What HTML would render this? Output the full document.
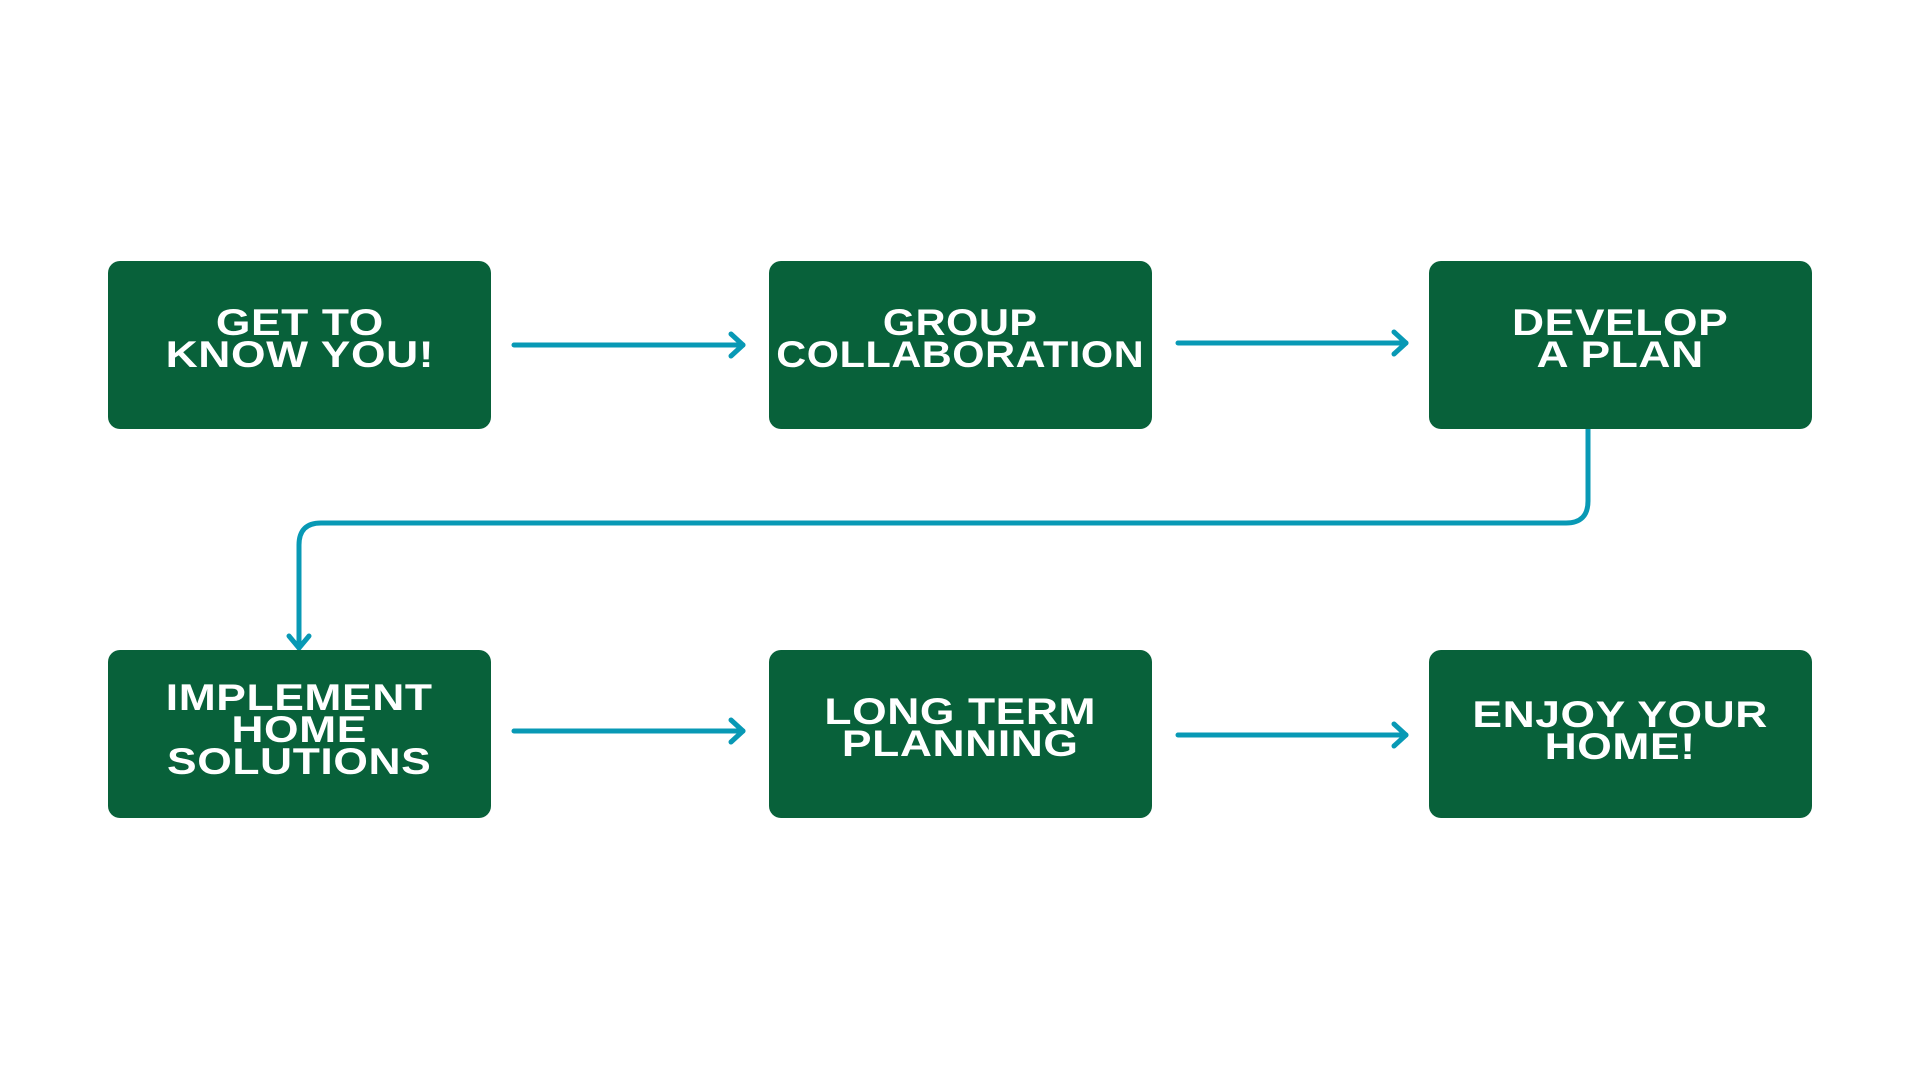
<!DOCTYPE html>
<html><head><meta charset="utf-8"><style>
html,body{margin:0;padding:0;background:#fff;}
body{width:1920px;height:1080px;position:relative;overflow:hidden;font-family:"Liberation Sans",sans-serif;}
.b{position:absolute;width:383px;height:168px;background:#08613a;border-radius:12px;display:flex;align-items:center;justify-content:center;}
.t{color:#fff;font-weight:bold;font-size:37px;line-height:32px;text-align:center;transform:scaleX(1.2);margin-top:-12px;white-space:nowrap;letter-spacing:0.5px;}
svg{position:absolute;left:0;top:0;}
</style></head><body>
<svg width="1920" height="1080">
<g stroke="#0899b5" stroke-width="5" fill="none" stroke-linecap="round" stroke-linejoin="round">
<line x1="514" y1="345" x2="743" y2="345"/><polyline points="731,334 743,345 731,356"/>
<line x1="1178" y1="343" x2="1406" y2="343"/><polyline points="1394,332 1406,343 1394,354"/>
<line x1="514" y1="731" x2="743" y2="731"/><polyline points="731,720 743,731 731,742"/>
<line x1="1178" y1="735" x2="1406" y2="735"/><polyline points="1394,724 1406,735 1394,746"/>
<path d="M1588,429 V501 Q1588,523 1566,523 H321 Q299,523 299,545 V648"/>
<polyline points="289,636 299,648 309,636"/>
</g>
</svg>
<div class="b" style="left:108px;top:261px"><div class="t">GET TO<br>KNOW YOU!</div></div>
<div class="b" style="left:769px;top:261px"><div class="t" style="transform:scaleX(1.12)">GROUP<br>COLLABORATION</div></div>
<div class="b" style="left:1429px;top:261px"><div class="t">DEVELOP<br>A PLAN</div></div>
<div class="b" style="left:108px;top:650px"><div class="t" style="margin-top:-8px">IMPLEMENT<br>HOME<br>SOLUTIONS</div></div>
<div class="b" style="left:769px;top:650px"><div class="t">LONG TERM<br>PLANNING</div></div>
<div class="b" style="left:1429px;top:650px"><div class="t" style="margin-top:-6px">ENJOY YOUR<br>HOME!</div></div>
</body></html>
